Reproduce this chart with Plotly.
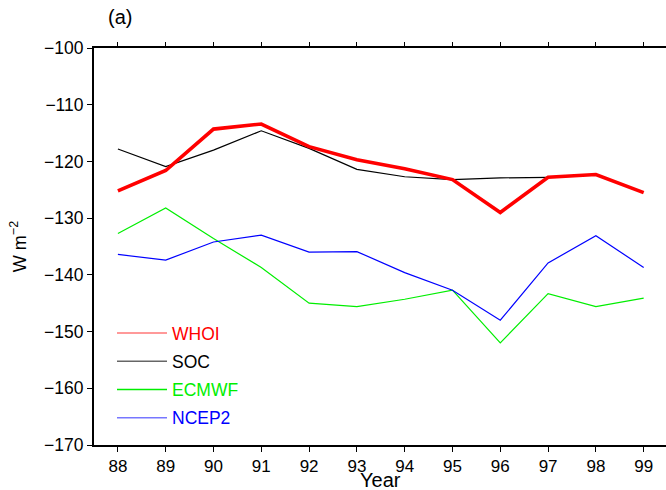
import plotly.graph_objects as go

years = [88, 89, 90, 91, 92, 93, 94, 95, 96, 97, 98, 99]
whoi = [-125.2, -121.6, -114.3, -113.4, -117.4, -119.7, -121.3, -123.2, -129.0, -122.8, -122.3, -125.5]
soc_years = [88, 89, 90, 91, 92, 93, 94, 95, 96, 97]
soc = [-117.8, -120.9, -118.0, -114.6, -117.7, -121.4, -122.7, -123.2, -122.9, -122.8]
ecmwf = [-132.7, -128.2, -133.6, -138.7, -145.0, -145.6, -144.3, -142.7, -152.0, -143.3, -145.6, -144.1]
ncep2 = [-136.4, -137.4, -134.2, -133.0, -136.0, -135.9, -139.6, -142.7, -148.0, -137.9, -133.1, -138.7]

names = ["WHOI", "SOC", "ECMWF", "NCEP2"]
colors = ["#ff0000", "#000000", "#00ee00", "#0000ff"]
legend_line_colors = ["#ff7777", "#666666", "#00ee00", "#7777ff"]

font = "Liberation Sans, Arial, sans-serif"

fig = go.Figure()
series = [(years, whoi, 3.6), (soc_years, soc, 1.2), (years, ecmwf, 1.2), (years, ncep2, 1.2)]
# draw order: ECMWF, NCEP2, SOC, WHOI (WHOI on top)
for idx in [2, 3, 1, 0]:
    xs, ys, w = series[idx]
    fig.add_trace(go.Scatter(x=xs, y=ys, mode="lines", line=dict(color=colors[idx], width=w),
                             showlegend=False, hoverinfo="skip"))
# legend entries (thin lines as in the reference)
for i, n in enumerate(names):
    fig.add_trace(go.Scatter(x=[None], y=[None], mode="lines",
                             line=dict(color=legend_line_colors[i], width=1.5),
                             name='<span style="color:%s">%s</span>' % (colors[i], n),
                             legendgroup=n))

PW, PH = 572, 397  # plot area size in px
fig.update_layout(
    width=666, height=490,
    margin=dict(l=94, r=0, t=48, b=45, autoexpand=False),
    paper_bgcolor="white", plot_bgcolor="white",
    font=dict(family=font, size=17, color="black"),
    legend=dict(x=(112 - 94) / PW, y=(445 - 315) / PH, xanchor="left", yanchor="top",
                xref="paper", yref="paper",
                bgcolor="rgba(0,0,0,0)", itemwidth=50, tracegroupgap=2.5,
                font=dict(size=17.5), traceorder="grouped"),
    annotations=[
        dict(text="(a)", xref="paper", yref="paper",
             x=(120 - 94) / PW, y=(445 - 17) / PH,
             xanchor="center", yanchor="middle", showarrow=False, font=dict(size=20)),
        dict(text="Year", xref="paper", yref="paper",
             x=0.5, y=(445 - 479.5) / PH,
             xanchor="center", yanchor="middle", showarrow=False, font=dict(size=20)),
    ],
)
fig.update_xaxes(range=[87.5, 99.467], tickmode="array", tickvals=years,
                 ticktext=[str(y) for y in years], automargin=False,
                 showline=True, linecolor="black", linewidth=2, mirror="ticks",
                 ticks="outside", ticklen=4.5, tickwidth=1.2, tickcolor="black",
                 showgrid=False, zeroline=False,
                 tickfont=dict(size=17))
fig.update_yaxes(range=[-170, -100], dtick=10, tick0=-170, automargin=False,
                 showline=True, linecolor="black", linewidth=2, mirror=False,
                 ticks="outside", ticklen=5, tickwidth=1.2, tickcolor="black",
                 showgrid=False, zeroline=False,
                 tickfont=dict(size=17.5),
                 title=dict(text="W m<sup>−2</sup>", font=dict(size=18), standoff=13))

fig.write_html("out.html")
